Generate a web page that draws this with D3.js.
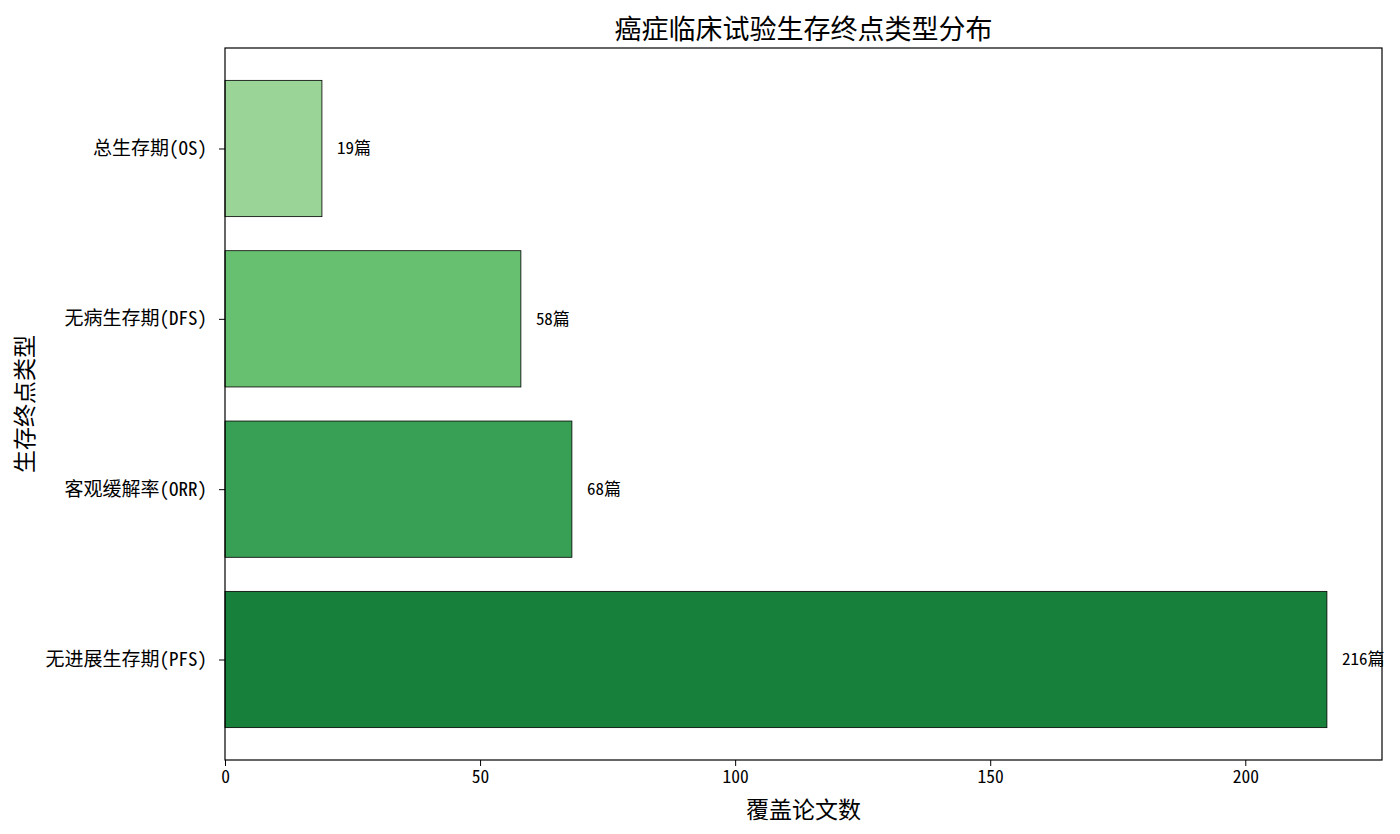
<!DOCTYPE html>
<html><head><meta charset="utf-8">
<script src="https://cdn.jsdelivr.net/npm/d3@7"></script>
<style>body{margin:0;background:#fff;} svg{display:block;font-family:"Noto Sans Mono CJK SC","Noto Sans CJK SC","Noto Sans",sans-serif;}</style>
</head><body>
<svg id="c" width="1400" height="834"></svg>
<script>
const categories = ["总生存期(OS)", "无病生存期(DFS)", "客观缓解率(ORR)", "无进展生存期(PFS)"];
const counts = [19, 58, 68, 216];
const colors = ["#9ad496", "#67bf70", "#38a055", "#17813c"];
const xTicks = [0, 50, 100, 150, 200];
const title = "癌症临床试验生存终点类型分布";
const xLabel = "覆盖论文数";
const yLabel = "生存终点类型";

const FF = '"Noto Sans Mono CJK SC","Noto Sans CJK SC",sans-serif';
const svg = d3.select("#c");
const L = 225, R = 1382, T = 48, B = 760;
const x = d3.scaleLinear().domain([0, d3.max(counts) * 1.05]).range([L, R]);
const n = categories.length;
const lo = -0.4, hi = n - 1 + 0.4, pad = (hi - lo) * 0.05;
const y = d3.scaleLinear().domain([lo - pad, hi + pad]).range([T, B]);

const g = svg.append("g");
g.selectAll("rect.bar").data(counts).join("rect")
  .attr("class", "bar")
  .attr("x", x(0))
  .attr("y", (d, i) => y(i - 0.4))
  .attr("width", d => x(d) - x(0))
  .attr("height", (d, i) => y(i + 0.4) - y(i - 0.4))
  .attr("fill", (d, i) => colors[i])
  .attr("stroke", "#000").attr("stroke-width", 0.8);

g.selectAll("text.val").data(counts).join("text")
  .attr("class", "val")
  .attr("x", d => x(d) + 15)
  .attr("y", (d, i) => y(i))
  .attr("dy", "0.35em")
  .attr("font-size", 17)
  .attr("fill", "#000")
  .style("font-family", FF)
  .text(d => d + "篇");

svg.append("rect").attr("x", L).attr("y", T).attr("width", R - L).attr("height", B - T)
  .attr("fill", "none").attr("stroke", "#000").attr("stroke-width", 1.2);

const xa = svg.append("g").attr("transform", `translate(0,${B})`)
  .call(d3.axisBottom(x).tickValues(xTicks).tickSize(6).tickPadding(5));
xa.select(".domain").remove();
xa.selectAll("text").attr("font-size", 17.5).attr("fill", "#000").style("font-family", FF);
xa.selectAll("line").attr("stroke", "#000");

const ya = svg.append("g").attr("transform", `translate(${L},0)`)
  .call(d3.axisLeft(y).tickValues(d3.range(n)).tickFormat(i => categories[i]).tickSize(6).tickPadding(12));
ya.select(".domain").remove();
ya.selectAll("text").attr("font-size", 19).attr("fill", "#000").style("font-family", FF);
ya.selectAll("line").attr("stroke", "#000");

svg.append("text").attr("x", (L + R) / 2).attr("y", 39).attr("text-anchor", "middle")
  .attr("font-size", 27).attr("fill", "#000").style("font-family", FF).text(title);
svg.append("text").attr("x", (L + R) / 2).attr("y", 818).attr("text-anchor", "middle")
  .attr("font-size", 23).attr("fill", "#000").style("font-family", FF).text(xLabel);
svg.append("text").attr("transform", `translate(33,${(T + B) / 2}) rotate(-90)`).attr("text-anchor", "middle")
  .attr("font-size", 23).attr("fill", "#000").style("font-family", FF).text(yLabel);
</script>
</body></html>
